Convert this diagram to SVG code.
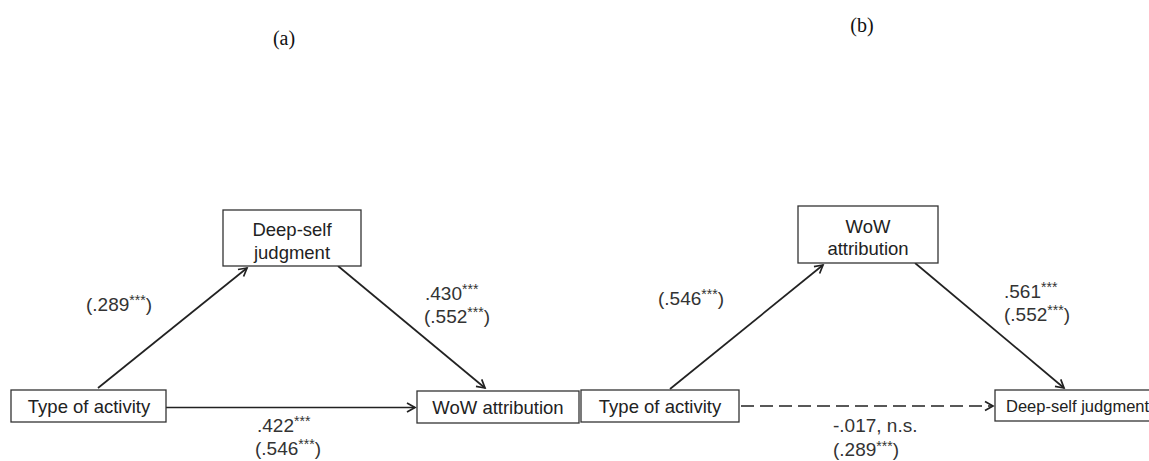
<svg xmlns="http://www.w3.org/2000/svg" width="1149" height="461" viewBox="0 0 1149 461">
<style>
.box{fill:#fff;stroke:#333;stroke-width:1.3}
.lbl{font-family:"Liberation Sans",Arial,sans-serif;font-size:18.5px;fill:#222}
.coef{font-family:"Liberation Sans",Arial,sans-serif;font-size:19px;fill:#333}
.sup{font-size:14px}
.cap{font-family:"Liberation Serif","Times New Roman",serif;font-size:20px;fill:#111}
.edge{stroke:#222;stroke-width:1.7;fill:none;marker-end:url(#arr)}
.dash{stroke-dasharray:13 6}
</style>
<defs>
<marker id="arr" markerUnits="userSpaceOnUse" markerWidth="12" markerHeight="12" viewBox="0 0 12 12" refX="10" refY="6" orient="auto">
<path d="M2,1.5 L10,6 L2,10.5" fill="none" stroke="#222" stroke-width="1.7"/>
</marker>
</defs>
<text class="cap" x="284" y="45" text-anchor="middle">(a)</text>
<text class="cap" x="862" y="32" text-anchor="middle">(b)</text>
<g id="connectors">
<line class="edge" x1="98" y1="388" x2="247" y2="268"/>
<line class="edge" x1="338" y1="266" x2="485" y2="388"/>
<line class="edge" x1="166" y1="407.5" x2="415" y2="407.5"/>
<line class="edge" x1="670" y1="389" x2="823" y2="265"/>
<line class="edge" x1="915" y1="263" x2="1064" y2="388"/>
<line class="edge dash" x1="741" y1="406" x2="993" y2="406"/>
</g>
<g id="a-type">
<rect class="box" x="11" y="390" width="155" height="32"/>
<text class="lbl" x="89" y="413" text-anchor="middle">Type of activity</text>
</g>
<g id="a-deepself">
<rect class="box" x="223" y="210" width="138" height="56"/>
<text class="lbl" x="292" y="236" text-anchor="middle">Deep-self</text>
<text class="lbl" x="292" y="259" text-anchor="middle">judgment</text>
</g>
<g id="a-wow">
<rect class="box" x="417" y="391" width="162" height="32"/>
<text class="lbl" x="498" y="414" text-anchor="middle">WoW attribution</text>
</g>
<g id="b-type">
<rect class="box" x="581" y="390" width="158" height="32"/>
<text class="lbl" x="660" y="413" text-anchor="middle">Type of activity</text>
</g>
<g id="b-wow">
<rect class="box" x="798" y="206" width="140" height="57"/>
<text class="lbl" x="868" y="233" text-anchor="middle">WoW</text>
<text class="lbl" x="868" y="255" text-anchor="middle">attribution</text>
</g>
<g id="b-deepself">
<rect class="box" x="995" y="390" width="170" height="31"/>
<text class="lbl" x="1006" y="412" style="font-size:16.5px">Deep-self judgment</text>
</g>
<g id="labels">
<text class="coef" x="86" y="311">(.289<tspan class="sup" dy="-6">***</tspan><tspan dy="6">)</tspan></text>
<text class="coef" x="425" y="300">.430<tspan class="sup" dy="-6">***</tspan></text>
<text class="coef" x="424" y="323">(.552<tspan class="sup" dy="-6">***</tspan><tspan dy="6">)</tspan></text>
<text class="coef" x="257" y="432">.422<tspan class="sup" dy="-6">***</tspan></text>
<text class="coef" x="255" y="455">(.546<tspan class="sup" dy="-6">***</tspan><tspan dy="6">)</tspan></text>
<text class="coef" x="658" y="305">(.546<tspan class="sup" dy="-6">***</tspan><tspan dy="6">)</tspan></text>
<text class="coef" x="1004" y="298">.561<tspan class="sup" dy="-6">***</tspan></text>
<text class="coef" x="1004" y="321">(.552<tspan class="sup" dy="-6">***</tspan><tspan dy="6">)</tspan></text>
<text class="coef" x="833" y="432">-.017, n.s.</text>
<text class="coef" x="833" y="456">(.289<tspan class="sup" dy="-5">***</tspan><tspan dy="5">)</tspan></text>
</g>
</svg>
